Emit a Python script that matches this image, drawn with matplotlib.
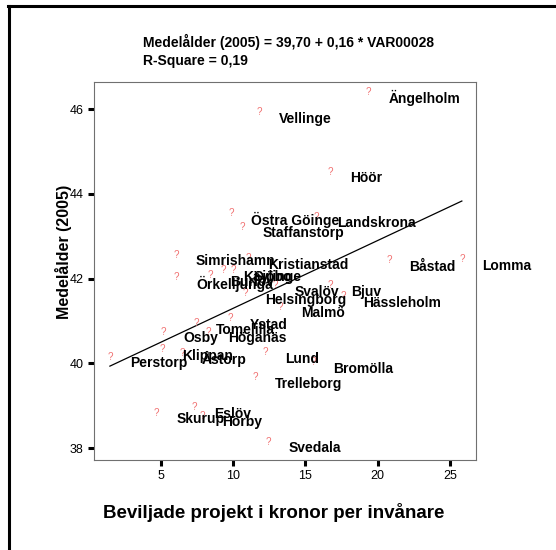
import matplotlib
matplotlib.use("Agg")
import matplotlib.pyplot as plt
from matplotlib.lines import Line2D

plt.rcParams['font.family'] = ['Liberation Sans', 'DejaVu Sans']

# Kommuner och värden
kommuner = ['Ängelholm', 'Vellinge', 'Höör', 'Östra Göinge', 'Staffanstorp',
            'Landskrona', 'Båstad', 'Lomma', 'Bjuv', 'Hässleholm', 'Bromölla',
            'Lund', 'Simrishamn', 'Örkelljunga', 'Burlöv', 'Kävlinge', 'Sjöbo',
            'Kristianstad', 'Svalöv', 'Helsingborg', 'Malmö', 'Ystad',
            'Tomelilla', 'Osby', 'Höganäs', 'Perstorp', 'Klippan', 'Åstorp',
            'Trelleborg', 'Skurup', 'Eslöv', 'Hörby', 'Svedala']
kronor = [19.37, 11.79, 16.70, 9.85, 10.66,
          15.78, 20.79, 25.82, 16.75, 17.63, 15.56,
          12.20, 6.04, 6.04, 8.39, 9.31, 10.01,
          11.02, 12.89, 10.82, 13.29, 9.78,
          7.44, 5.16, 8.28, 1.47, 5.09, 6.45,
          11.53, 4.70, 7.29, 7.84, 12.43]
medelalder = [46.41, 45.93, 44.52, 43.54, 43.22,
              43.46, 42.44, 42.46, 41.85, 41.59, 40.03,
              40.26, 42.56, 42.04, 42.08, 42.20, 42.20,
              42.48, 41.85, 41.65, 41.34, 41.06,
              40.95, 40.75, 40.75, 40.16, 40.33, 40.25,
              39.67, 38.84, 38.96, 38.76, 38.15]

# Regressionslinje
konstant = 39.70
lutning = 0.16

x_ticks = [5, 10, 15, 20, 25]
y_ticks = [38, 40, 42, 44, 46]

fig = plt.figure(figsize=(5.56, 5.5), dpi=100)
ax = fig.add_axes([94/556, 1 - 460/550, 382/556, 378/550])

# punkterna ritas som röda "?"
for x, y in zip(kronor, medelalder):
    ax.text(x, y, '?', color='#f07070', fontsize=7, ha='center', va='center')

for namn, x, y in zip(kommuner, kronor, medelalder):
    ax.annotate(namn, (x, y), xytext=(14.4, -4.7), textcoords='offset points',
                ha='left', va='center', fontsize=10, fontweight='bold',
                annotation_clip=False)

xmin, xmax = min(kronor), max(kronor)
ax.plot([xmin, xmax], [konstant + lutning*xmin, konstant + lutning*xmax],
        color='black', lw=0.9)

ax.set_xlim(0.37, 26.8)
ax.set_ylim(37.72, 46.64)
ax.set_xticks(x_ticks)
ax.set_yticks(y_ticks)
ax.tick_params(direction='out', length=4.5, width=2.2, labelsize=9, pad=3)
for s in ax.spines.values():
    s.set_color('#707070')
    s.set_linewidth(0.8)

ax.set_xlabel('Beviljade projekt i kronor per invånare', fontsize=13.5,
              fontweight='bold', labelpad=15, x=0.471)
ax.set_ylabel('Medelålder (2005)', fontsize=11.5, fontweight='bold',
              labelpad=-2, y=0.55)

fig.text(143/556, 1 - 41.5/550, 'Medelålder (2005) = 39,70 + 0,16 * VAR00028',
         fontsize=10, fontweight='bold', ha='left', va='center')
fig.text(143/556, 1 - 60.5/550, 'R-Square = 0,19',
         fontsize=10, fontweight='bold', ha='left', va='center')

# ram runt figuren (vänster och överkant)
fig.add_artist(Line2D([9/556, 9/556], [0, 1 - 6/550], color='black', lw=2.2))
fig.add_artist(Line2D([8/556, 1], [1 - 6/550, 1 - 6/550], color='black', lw=2.2))

fig.savefig('out.png', dpi=100)
